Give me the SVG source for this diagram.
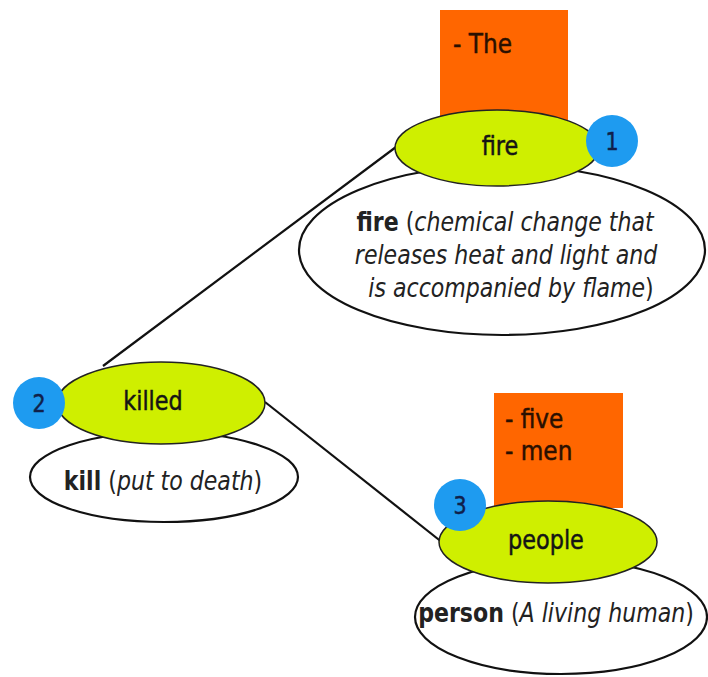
<svg xmlns="http://www.w3.org/2000/svg" width="708" height="677" viewBox="0 0 708 677">
  <style>
    text { font-family: "DejaVu Sans", Verdana, sans-serif; fill: #1a1a1a; }
    .lbl { font-size: 26px; text-anchor: middle; fill: #151515; stroke: #151515; stroke-width: 0.5; }
    .def { font-size: 26px; text-anchor: middle; fill: #222; }
    .hw { font-weight: bold; font-style: normal; }
    .gl { font-style: italic; }
    .tag { fill: #ff6600; }
    .tagtxt { font-size: 27px; fill: #2a1000; stroke: #2a1000; stroke-width: 0.5; }
    .word { fill: #cfef00; stroke: #222; stroke-width: 1.5; }
    .sense { fill: none; stroke: #111; stroke-width: 2.2; }
    .badge { fill: #1e9bf0; }
    .num { font-size: 24px; text-anchor: middle; fill: #10204a; stroke: #10204a; stroke-width: 0.5; }
    .link { stroke: #111; stroke-width: 2.2; fill: none; }
  </style>

  <rect width="708" height="677" fill="#ffffff"/>

  <!-- connectors between word nodes -->
  <g id="connectors">
    <line class="link" x1="396" y1="147" x2="103" y2="366"/>
    <line class="link" x1="265" y1="402" x2="443" y2="543"/>
  </g>

  <!-- node 1: fire -->
  <g id="node-fire">
    <rect class="tag" x="440" y="10" width="128" height="110"/>
    <text class="tagtxt" transform="translate(453,53) scale(0.86,1)">- The</text>
    <ellipse class="sense" cx="502" cy="250" rx="203" ry="85"/>
    <text class="def" transform="translate(505,231) scale(0.85,1)"><tspan class="hw">fire</tspan> (<tspan class="gl">chemical change that</tspan></text>
    <text class="def gl" transform="translate(506,264) scale(0.85,1)">releases heat and light and</text>
    <text class="def" transform="translate(511,297) scale(0.85,1)"><tspan class="gl">is accompanied by flame</tspan>)</text>
    <ellipse class="word" cx="497" cy="148" rx="102" ry="38"/>
    <text class="lbl" transform="translate(500,155) scale(0.86,1)">fire</text>
    <circle class="badge" cx="612" cy="141" r="26"/>
    <text class="num" transform="translate(612,150) scale(0.86,1)">1</text>
  </g>

  <!-- node 2: killed -->
  <g id="node-killed">
    <ellipse class="sense" cx="164" cy="477" rx="134" ry="45"/>
    <text class="def" transform="translate(163,490) scale(0.85,1)"><tspan class="hw">kill</tspan> (<tspan class="gl">put to death</tspan>)</text>
    <ellipse class="word" cx="161" cy="403" rx="104" ry="41"/>
    <text class="lbl" transform="translate(153,410) scale(0.86,1)">killed</text>
    <circle class="badge" cx="39" cy="403" r="26"/>
    <text class="num" transform="translate(39,412) scale(0.86,1)">2</text>
  </g>

  <!-- node 3: people -->
  <g id="node-people">
    <rect class="tag" x="494" y="393" width="129" height="115"/>
    <text class="tagtxt" transform="translate(505,428) scale(0.86,1)">- five</text>
    <text class="tagtxt" transform="translate(505,460) scale(0.86,1)">- men</text>
    <ellipse class="sense" cx="561" cy="617" rx="146" ry="57"/>
    <text class="def" transform="translate(556,622) scale(0.85,1)"><tspan class="hw">person</tspan> (<tspan class="gl">A living human</tspan>)</text>
    <ellipse class="word" cx="548" cy="542" rx="109" ry="41"/>
    <text class="lbl" transform="translate(546,549) scale(0.86,1)">people</text>
    <circle class="badge" cx="460" cy="505" r="26"/>
    <text class="num" transform="translate(460,514) scale(0.86,1)">3</text>
  </g>
</svg>
